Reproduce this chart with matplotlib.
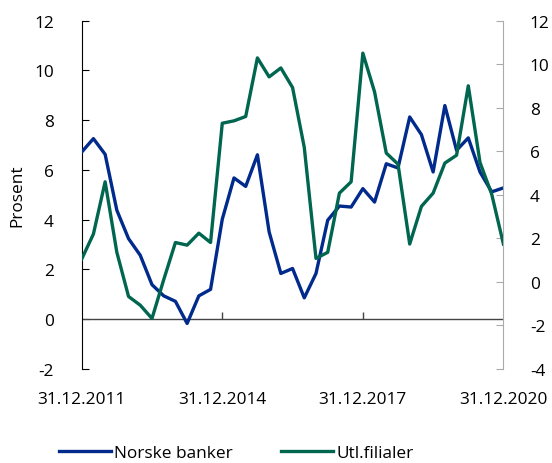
import matplotlib
matplotlib.use("Agg")
import matplotlib.pyplot as plt
import numpy as np

plt.rcParams['font.family'] = ['Open Sans', 'DejaVu Sans']
plt.rcParams['axes.unicode_minus'] = False

# quarterly, 31.12.2011 - 31.12.2020
quarters = np.arange(37)
tick_pos = [0, 12, 24, 36]
tick_labels = ["31.12.2011", "31.12.2014", "31.12.2017", "31.12.2020"]

norske = [6.72, 7.26, 6.63, 4.38, 3.24, 2.57, 1.39, 0.94, 0.72, -0.17,
          0.94, 1.20, 4.02, 5.68, 5.34, 6.61, 3.51, 1.84, 2.04, 0.86,
          1.84, 3.98, 4.55, 4.51, 5.25, 4.71, 6.25, 6.08, 8.13, 7.42,
          5.92, 8.59, 6.79, 7.29, 5.92, 5.12, 5.28]
utl = [1.05, 2.20, 4.60, 1.36, -0.67, -1.07, -1.68, 0.10, 1.81, 1.69,
       2.24, 1.81, 7.29, 7.40, 7.60, 10.29, 9.42, 9.83, 8.93, 6.18,
       1.08, 1.36, 4.08, 4.60, 10.51, 8.73, 5.92, 5.41, 1.74, 3.47,
       4.08, 5.46, 5.82, 9.01, 5.49, 4.03, 1.74]

blue = "#002a8c"
green = "#00664f"
fs = 12.4

fig = plt.figure(figsize=(5.52, 4.64), dpi=100)
ax = fig.add_axes([0.148, 0.2026, 0.764, 0.7506])
ax2 = ax.twinx()

l1, = ax.plot(quarters, norske, color=blue, lw=2.4, zorder=3)
l2, = ax2.plot(quarters, utl, color=green, lw=2.4, zorder=3)

ax.set_xlim(0, 36)
ax.set_ylim(-2, 12)
ax.set_yticks(range(-2, 13, 2))
ax2.set_ylim(-4, 12)
ax2.set_yticks(range(-4, 13, 2))

for a in (ax, ax2):
    a.spines['top'].set_visible(False)
    a.spines['bottom'].set_visible(False)
ax.spines['right'].set_visible(False)
ax2.spines['left'].set_visible(False)
ax.spines['left'].set_color('black')
ax2.spines['right'].set_color('#aaaaaa')

ax.tick_params(axis='y', direction='in', length=5, labelsize=fs, pad=20)
ax2.tick_params(axis='y', direction='in', length=5, labelsize=fs, pad=19,
                color='#aaaaaa')

# x axis line at zero
ax.axhline(0, color='#444444', lw=1, zorder=2)
ax.set_xticks(tick_pos)
ax.set_xticklabels(tick_labels)
ax.tick_params(axis='x', length=0, labelsize=fs, pad=16)
ax.vlines(tick_pos[1:3], 0, 0.28, color='#444444', lw=1)

ax.set_ylabel("Prosent", fontsize=fs, labelpad=6)

fig.legend([l1, l2], ["Norske banker", "Utl.filialer"], loc='lower left',
           bbox_to_anchor=(0.079, -0.03), ncol=2, frameon=False, fontsize=fs,
           handlelength=3.0, handletextpad=0.2, columnspacing=2.8)

ax2.set_zorder(ax.get_zorder() + 1)
ax2.patch.set_visible(False)

fig.savefig("out.png", dpi=100)
